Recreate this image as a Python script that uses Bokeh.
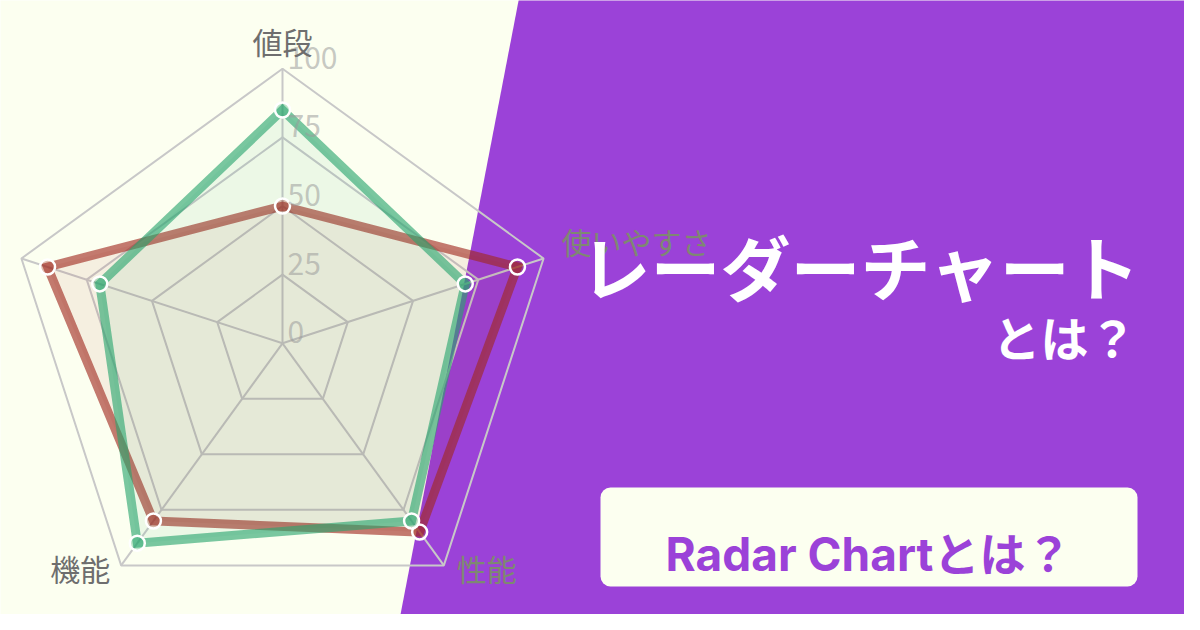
import numpy as np
from bokeh.plotting import figure
from bokeh.models import Range1d, BoxAnnotation
from bokeh.core.properties import value
from bokeh.embed import file_html
from bokeh.resources import INLINE

# ---------------- data ----------------
axis_labels = ["値段", "使いやすさ", "性能", "機能", "デザイン"]
series_green = [85, 70, 80, 90, 70]
series_red = [50, 90, 85, 80, 90]
tick_values = [0, 25, 50, 75, 100]
tick_labels = ["0", "25", "50", "75", "100"]
title_main = "レーダーチャート"
title_sub = "とは？"
button_text = "Radar Chartとは？"

# ---------------- styles ----------------
CREAM = "#FCFFF0"
PURPLE = "#9B42D8"
GREEN = "#28A56E"
RED = "#A0281F"
GRID = "#C8C8C8"
LABEL_COLORS = ["#6E6E6E", "#7E8872", "#7E8872", "#6E6E6E", "#6E6E6E"]
JP = value("Noto Sans CJK JP")

IMG_H = 630


def Y(y):
    return IMG_H - y


p = figure(width=1184, height=614, x_range=Range1d(0, 1184), y_range=Range1d(16, 630),
           output_backend="svg", toolbar_location=None, min_border=0,
           x_axis_location=None, y_axis_location=None,
           background_fill_color=CREAM, border_fill_color=CREAM,
           outline_line_color=None)
p.grid.visible = False

# purple slanted background
p.patch([520, 1215, 1215, 395], [Y(-10), Y(-10), Y(640), Y(640)],
        fill_color=PURPLE, line_color=None, level="image")

# button
p.add_layout(BoxAnnotation(left=600, right=1137, top=Y(487), bottom=Y(586),
                           fill_color=CREAM, fill_alpha=1.0, line_color=None,
                           border_radius=10, level="underlay"))

# ---------------- radar ----------------
cx, cy, R = 282.0, Y(342.8), 274.5
ang = np.deg2rad(72 * np.arange(len(axis_labels)))


def polar(vals):
    r = R * np.asarray(vals, dtype=float) / 100.0
    return cx + r * np.sin(ang), cy + r * np.cos(ang)


for t in tick_values[1:]:
    gx, gy = polar([t] * len(axis_labels))
    p.patch(gx, gy, fill_color=None, line_color=GRID, line_width=2)

vx, vy = polar([100] * len(axis_labels))
p.segment(x0=[cx] * 5, y0=[cy] * 5, x1=vx, y1=vy, line_color=GRID, line_width=2)

for vals, col in ((series_red, RED), (series_green, GREEN)):
    sx, sy = polar(vals)
    p.patch(sx, sy, fill_color=col, fill_alpha=0.075, line_color=col, line_alpha=0.62,
            line_width=9, line_join="miter")
for vals, col in ((series_red, RED), (series_green, GREEN)):
    sx, sy = polar(vals)
    p.scatter(sx, sy, size=15, fill_color=col, fill_alpha=0.3,
              line_color="white", line_width=2.5)

# tick labels
p.text(x=[cx + 5] * len(tick_values),
       y=[cy + R * t / 100.0 + 11 for t in tick_values],
       text=tick_labels, text_align="left", text_baseline="middle",
       text_font=JP, text_font_size="30px", text_color="#9A9A9A", text_alpha=0.55)

# axis (point) labels (the fifth one lies beyond the left edge of the picture)
offsets = [(0, 28, "center"), (18, 17, "left"), (13, -3, "left"), (-11, -3, "right")]
for i, (dx, dy, al) in enumerate(offsets):
    p.text(x=[vx[i] + dx], y=[vy[i] + dy], text=[axis_labels[i]], text_align=al,
           text_baseline="middle", text_font=JP, text_font_size="30px",
           text_color=LABEL_COLORS[i])

# ---------------- titles ----------------
p.text(x=[580], y=[Y(265)], text=[title_main], text_align="left", text_baseline="middle",
       text_font=JP, text_font_style="bold", text_font_size="70px", text_color="white")
p.text(x=[1136], y=[Y(335)], text=[title_sub], text_align="right", text_baseline="middle",
       text_font=JP, text_font_style="bold", text_font_size="48px", text_color="white")
p.text(x=[868], y=[Y(553)], text=[button_text], text_align="center", text_baseline="alphabetic",
       text_font=value("Inter, 'Noto Sans CJK JP'"), text_font_style="bold",
       text_font_size="46px", text_color=PURPLE)

open("out.html", "w").write(file_html(p, INLINE))
